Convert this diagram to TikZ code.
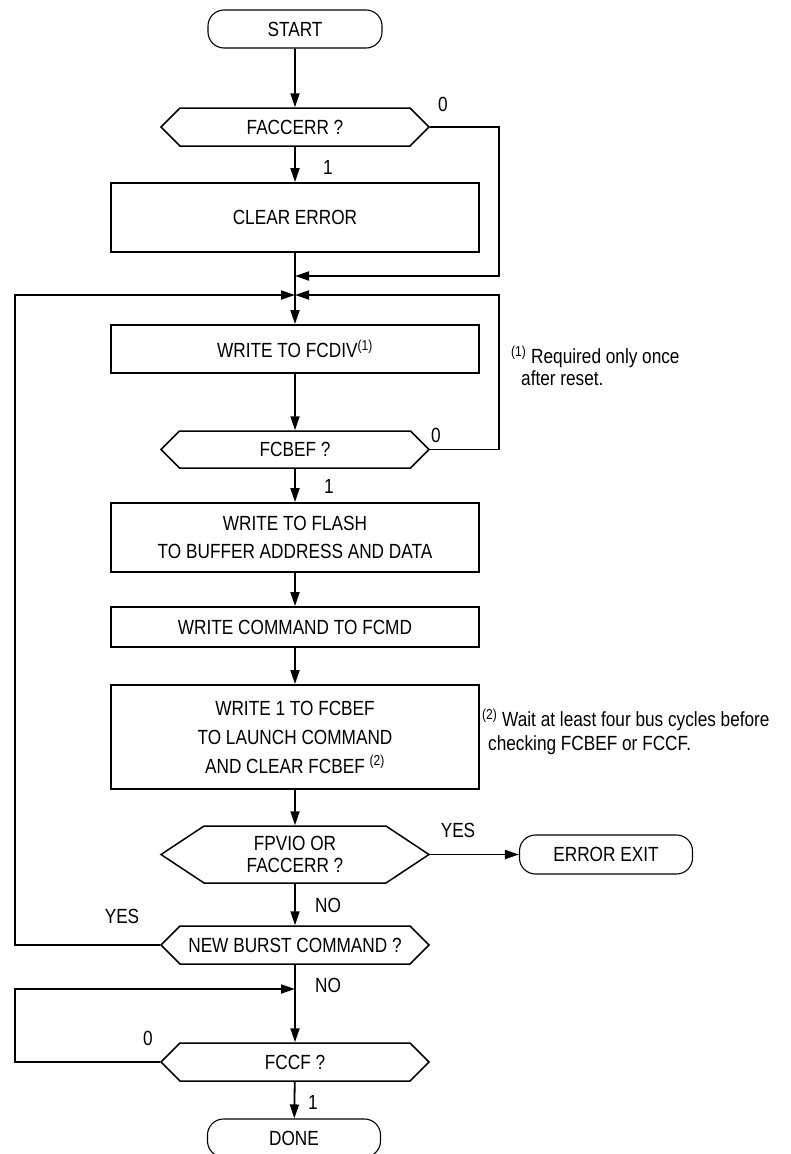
\documentclass[tikz,border=0pt]{standalone}
\usepackage{fontspec}
\setmainfont[FakeStretch=0.84]{Liberation Sans}
\usetikzlibrary{shapes.symbols}
\usetikzlibrary{arrows.meta}

\begin{document}
\begin{tikzpicture}[x=1pt, y=-1pt, >={Triangle[length=14pt,width=9pt]}, every node/.style={font=\fontsize{20.5}{28}\selectfont}]
				\tikzstyle{procnode}=[draw=black, line width=1.8pt, minimum width=368pt, fill=none, text=black, align=center]
				\tikzstyle{testnode}=[draw=black, line width=1.5pt, signal, signal to=west and east, signal pointer angle=90, minimum width=268pt, minimum height=38pt, inner sep=0pt, fill=none, text=black, align=center]
				\tikzstyle{termnode}=[draw=black, line width=1.1pt, rounded corners=16pt, minimum width=174pt, minimum height=38pt, fill=none, text=black]
				\tikzstyle{flow}=[->, line width=1.8pt]
				\tikzstyle{link}=[line width=1.8pt]
				\tikzstyle{tag}=[inner sep=0pt, text=black]
				
				\useasboundingbox (0,0) rectangle (791,1154);
				
				\node (start) at (295,29) [termnode] {START};
				\node (faccerr) at (295,127) [testnode] {FACCERR ?};
				\node (clear) at (295,217.5) [procnode, minimum height=69pt] {CLEAR ERROR};
				\node (fcdiv) at (295,349) [procnode, minimum height=48pt] {WRITE TO FCDIV\textsuperscript{(1)}};
				\node (fcbef) at (295,449.5) [testnode, minimum height=37pt] {FCBEF ?};
				\node (flash) at (295,537.5) [procnode, minimum height=69pt] {WRITE TO FLASH\\TO BUFFER ADDRESS AND DATA};
				\node (fcmd) at (295,627) [procnode, minimum height=40pt] {WRITE COMMAND TO FCMD};
				\node (launch) at (295,737) [procnode, minimum height=104pt, font=\fontsize{20.5}{29}\selectfont] {WRITE 1 TO FCBEF\\TO LAUNCH COMMAND\\AND CLEAR FCBEF \textsuperscript{(2)}};
				\node (fpvio) at (295,854.5) [testnode, minimum height=57pt, signal pointer angle=67, font=\fontsize{20.5}{22}\selectfont] {FPVIO OR\\FACCERR ?};
				\node (errexit) at (606,854.5) [termnode, minimum width=173pt, minimum height=39pt] {ERROR EXIT};
				\node (burst) at (295,945) [testnode] {NEW BURST COMMAND ?};
				\node (fccf) at (295,1062) [testnode] {FCCF ?};
				\node (done) at (294,1138) [termnode, minimum width=173pt] {DONE};
				
				% merge points on the main line
				\coordinate (m1) at (295,276);
				\coordinate (m2) at (295,295);
				\coordinate (m3) at (295,989);
				\coordinate (r1) at (499,276);
				\coordinate (r2) at (499,295);
				\coordinate (l1) at (15,295);
				\coordinate (l2) at (15,989);
				
				\draw [flow] (start) -- (faccerr);
				\draw [flow] (faccerr) -- (clear);
				\draw [link] (clear) -- (m2);
				\draw [flow] (m2) -- (fcdiv);
				\draw [flow] (faccerr.east) -| (r1) -- (m1);
				\draw [flow] (fcdiv) -- (fcbef);
				\draw [flow] (fcbef.east) -| (r2) -- (m2);
				\draw [flow] (fcbef) -- (flash);
				\draw [flow] (flash) -- (fcmd);
				\draw [flow] (fcmd) -- (launch);
				\draw [flow] (launch) -- (fpvio);
				\draw [flow] (fpvio.east) -- (errexit.west);
				\draw [flow] (fpvio) -- (burst);
				\draw [flow] (burst.west) -| (l1) -- (m2);
				\draw [flow] (burst) -- (fccf);
				\draw [flow] (fccf.west) -| (l2) -- (m3);
				\draw [flow] (fccf) -- (done);
				
				% branch labels
				\node (faccerr0) at (443,104) [tag] {0};
				\node (faccerr1) at (328,167) [tag] {1};
				\node (fcbef0) at (436,435) [tag] {0};
				\node (fcbef1) at (329,486) [tag] {1};
				\node (fpvioyes) at (458,830) [tag] {YES};
				\node (fpviono) at (328,905) [tag] {NO};
				\node (burstyes) at (122,916) [tag] {YES};
				\node (burstno) at (328,985) [tag] {NO};
				\node (fccf0) at (148,1038) [tag] {0};
				\node (fccf1) at (313,1102) [tag] {1};
				
				% footnotes
				\node (note1) at (511,366) [tag, anchor=west, align=left, font=\fontsize{20.5}{22}\selectfont] {\textsuperscript{(1)} Required only once\\\hspace*{10pt}after reset.};
				\node (note2) at (482,732) [tag, anchor=west, align=left, font=\fontsize{20.5}{24}\selectfont] {\textsuperscript{(2)} Wait at least four bus cycles before\\\hspace*{6pt}checking FCBEF or FCCF.};
				\end{tikzpicture}
\end{document}
